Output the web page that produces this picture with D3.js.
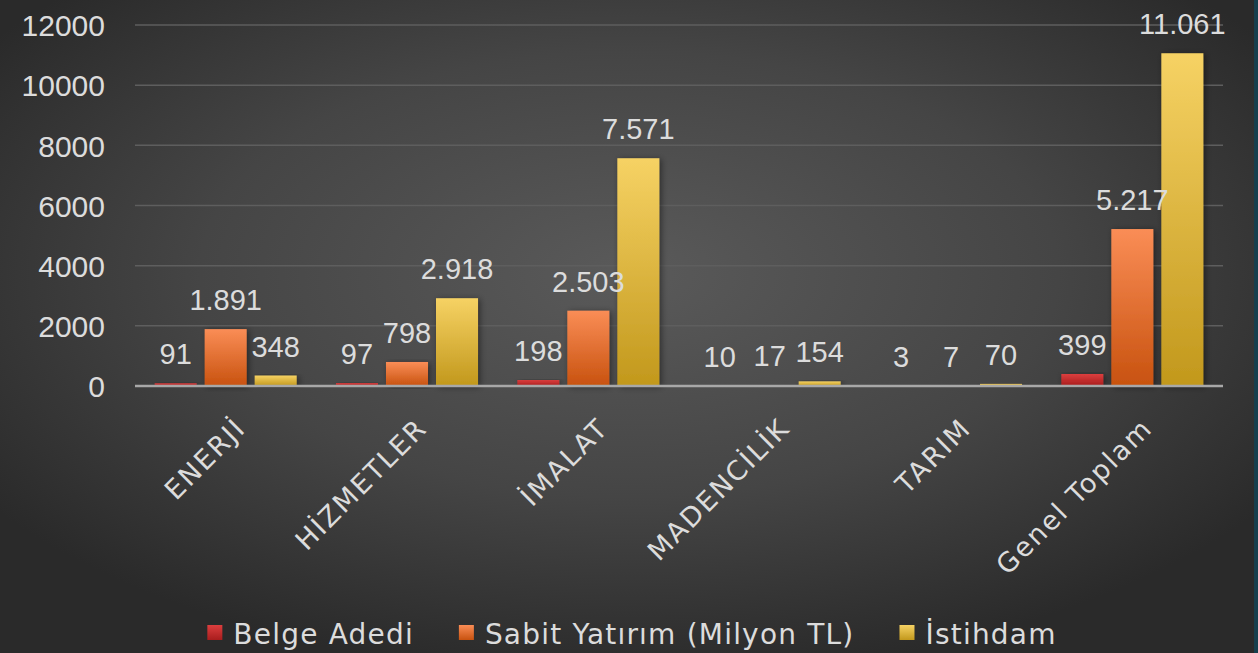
<!DOCTYPE html>
<html><head><meta charset="utf-8">
<script src="https://cdn.jsdelivr.net/npm/d3@7"></script>
<style>html,body{margin:0;padding:0;background:#333;overflow:hidden}svg{display:block}</style>
</head><body>
<svg id="chart" width="1258" height="653"></svg>
<script>
const categories = ["ENERJİ", "HİZMETLER", "İMALAT", "MADENCİLİK", "TARIM", "Genel Toplam"];
const seriesNames = ["Belge Adedi", "Sabit Yatırım (Milyon TL)", "İstihdam"];
const belgeAdedi = [91, 97, 198, 10, 3, 399];
const sabitYatirim = [1891, 798, 2503, 17, 7, 5217];
const istihdam = [348, 2918, 7571, 154, 70, 11061];
const yTicks = [0, 2000, 4000, 6000, 8000, 10000, 12000];

const seriesValues = [belgeAdedi, sabitYatirim, istihdam];
const colors = [
  {top: "#dc3e3e", bot: "#a81d1d"},
  {top: "#fa8d56", bot: "#c8520f"},
  {top: "#f6d264", bot: "#c2981c"}
];
const W = 1258, H = 653;
const margin = {left: 135, right: 35, top: 25, bottom: 267};
const FONT = "'DejaVu Sans', sans-serif";
const NUMFONT = "'Liberation Sans', Arial, sans-serif";
const TXT = "#dcdcdc";

const svg = d3.select("#chart");
const defs = svg.append("defs");
const bg = defs.append("radialGradient").attr("id", "bg")
  .attr("cx", "0.5").attr("cy", "0.42").attr("r", "0.62");
bg.append("stop").attr("offset", "0").attr("stop-color", "#5a5a5a");
bg.append("stop").attr("offset", "0.55").attr("stop-color", "#454545");
bg.append("stop").attr("offset", "1").attr("stop-color", "#2a2a2a");
colors.forEach((c, i) => {
  const g = defs.append("linearGradient").attr("id", "g" + i)
    .attr("x1", 0).attr("y1", 0).attr("x2", 0).attr("y2", 1);
  g.append("stop").attr("offset", 0).attr("stop-color", c.top);
  g.append("stop").attr("offset", 1).attr("stop-color", c.bot);
});
const f = defs.append("filter").attr("id", "sh").attr("x", "-30%").attr("y", "-10%").attr("width", "160%").attr("height", "120%");
f.append("feDropShadow").attr("dx", 2).attr("dy", 1).attr("stdDeviation", 3).attr("flood-color", "#000").attr("flood-opacity", 0.45);

svg.append("rect").attr("width", W).attr("height", H).attr("fill", "url(#bg)");
svg.append("rect").attr("x", 1254).attr("y", 0).attr("width", 4).attr("height", H).attr("fill", "#173f4d");

const x0 = d3.scaleBand().domain(categories).range([margin.left, W - margin.right]).padding(0);
const x1 = d3.scaleBand().domain(seriesNames).range([0, x0.bandwidth()]).paddingInner(0.16).paddingOuter(0.393);
const y = d3.scaleLinear().domain([0, 12000]).range([386, margin.top]);

// gridlines
svg.append("g").selectAll("line").data(yTicks.filter(d => d > 0)).join("line")
  .attr("x1", margin.left).attr("x2", W - margin.right)
  .attr("y1", d => y(d)).attr("y2", d => y(d))
  .attr("stroke", "#5e5e5e").attr("stroke-width", 1.5);

// y axis labels
const yAxis = d3.axisLeft(y).tickValues(yTicks).tickSize(0).tickPadding(0).tickFormat(d3.format("d"));
const ya = svg.append("g").attr("transform", "translate(105,0)").call(yAxis);
ya.select(".domain").remove();
ya.selectAll("text").attr("font-family", NUMFONT).attr("font-size", 30).attr("fill", TXT).attr("dy", "0.36em");

const loc = d3.formatLocale({decimal: ",", thousands: ".", grouping: [3], currency: ["", ""]});
const fmt = loc.format(",d");

// bars
const groups = svg.append("g").selectAll("g").data(categories).join("g")
  .attr("transform", d => `translate(${x0(d)},0)`);
seriesNames.forEach((s, si) => {
  groups.append("rect")
    .attr("x", x1(s)).attr("width", x1.bandwidth())
    .attr("y", (d, i) => y(seriesValues[si][i]))
    .attr("height", (d, i) => y(0) - y(seriesValues[si][i]))
    .attr("fill", `url(#g${si})`).attr("filter", "url(#sh)");
});
// axis line
svg.append("line").attr("x1", margin.left).attr("x2", W - margin.right)
  .attr("y1", 386).attr("y2", 386).attr("stroke", "#a8a8a8").attr("stroke-width", 2.5);
// data labels
seriesNames.forEach((s, si) => {
  groups.append("text")
    .attr("x", x1(s) + x1.bandwidth() / 2)
    .attr("y", (d, i) => y(seriesValues[si][i]) - 19)
    .attr("text-anchor", "middle").attr("font-family", NUMFONT).attr("font-size", 29)
    .attr("fill", TXT).text((d, i) => fmt(seriesValues[si][i]));
});

// x labels
svg.append("g").selectAll("text").data(categories).join("text")
  .attr("transform", d => `translate(${x0(d) + x0.bandwidth() / 2 + 8},416) rotate(-45)`)
  .attr("text-anchor", "end").attr("dy", "0.72em")
  .attr("font-family", FONT).attr("font-size", 27).attr("letter-spacing", 2).attr("fill", TXT)
  .text(d => d);

// legend
const leg = svg.append("g");
let lx = 0;
seriesNames.forEach((s, si) => {
  const it = leg.append("g").attr("transform", `translate(${lx},0)`);
  it.append("rect").attr("x", 0).attr("y", 625).attr("width", 15).attr("height", 15).attr("fill", `url(#g${si})`);
  const t = it.append("text").attr("x", 26).attr("y", 644).attr("font-family", FONT).attr("font-size", 28)
    .attr("letter-spacing", 1.2).attr("fill", TXT).text(s);
  lx += 26 + t.node().getComputedTextLength() + 45;
});
const totalW = lx - 45;
leg.attr("transform", `translate(${632 - totalW / 2},0)`);
</script>
</body></html>
